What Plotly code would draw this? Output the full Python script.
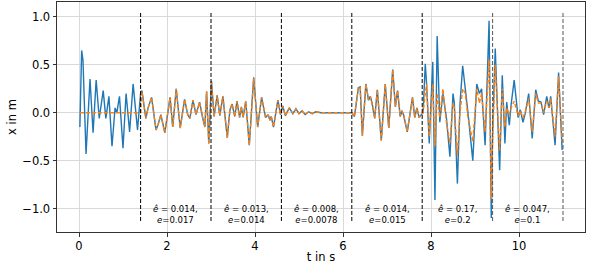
import plotly.graph_objects as go

# ---- data ----
t_true = [0.02, 0.06, 0.09, 0.16, 0.25, 0.32, 0.39, 0.46, 0.55, 0.61, 0.68, 0.75, 0.82, 0.86, 0.92, 1.00,
          1.07, 1.15, 1.23, 1.33, 1.40,
          1.43, 1.47, 1.52, 1.57, 1.65, 1.75, 1.80, 1.86, 1.95, 2.07, 2.13, 2.21, 2.30, 2.40, 2.47, 2.52,
          2.59, 2.66, 2.74, 2.81, 2.86, 2.90, 2.95, 3.01,
          3.07, 3.14, 3.20, 3.27, 3.37, 3.43, 3.48, 3.54, 3.59, 3.65, 3.69, 3.73, 3.79, 3.87, 3.97, 4.06,
          4.15, 4.24, 4.30, 4.34, 4.37, 4.42, 4.52, 4.58, 4.63,
          4.69, 4.78, 4.86, 4.93, 5.00, 5.07, 5.14, 5.22, 5.30, 5.38, 5.50, 6.20,
          6.26, 6.35, 6.39, 6.44, 6.52, 6.58, 6.62, 6.66, 6.72, 6.78, 6.87, 6.96, 7.04, 7.13, 7.19, 7.24,
          7.30, 7.34, 7.38, 7.46, 7.58, 7.63, 7.68, 7.73, 7.78,
          7.82, 7.87, 7.90, 7.96, 8.00, 8.04, 8.09, 8.14, 8.20, 8.27, 8.35, 8.43, 8.50, 8.53, 8.60, 8.66,
          8.72, 8.78, 8.84, 8.95, 9.04, 9.10, 9.15, 9.23, 9.32, 9.37,
          9.40, 9.46, 9.56, 9.62, 9.68, 9.72, 9.78, 9.82, 9.89, 9.98, 10.03, 10.09, 10.14, 10.22, 10.30,
          10.38, 10.44, 10.50, 10.56, 10.63, 10.68, 10.72, 10.82, 10.90, 10.98]
x_true = [-0.15, 0.65, 0.55, -0.43, 0.35, -0.21, 0.34, -0.06, 0.23, -0.06, 0.17, -0.35, 0.05, 0.00, 0.17, -0.37,
          0.20, -0.20, 0.30, -0.18, 0.20,
          0.23, 0.10, -0.06, 0.05, 0.16, -0.18, -0.12, -0.02, -0.21, 0.16, -0.15, 0.25, -0.16, 0.14, -0.02, -0.06,
          0.13, -0.02, 0.11, -0.05, -0.15, 0.22, -0.32, 0.33,
          -0.04, 0.18, -0.03, 0.17, -0.26, 0.03, 0.09, -0.04, 0.12, -0.05, 0.06, -0.05, 0.12, -0.34, 0.37, -0.15,
          0.16, -0.05, -0.02, -0.08, -0.04, -0.15, 0.13, -0.02, 0.07,
          -0.03, 0.05, -0.01, 0.04, -0.01, 0.02, -0.02, 0.01, -0.01, 0.01, 0.00, 0.00,
          -0.04, 0.26, 0.27, -0.24, 0.30, 0.13, 0.17, 0.10, -0.06, 0.24, -0.29, 0.30, -0.16, 0.45, 0.06, 0.23,
          -0.04, 0.02, -0.03, -0.20, 0.16, -0.05, 0.05, -0.05, -0.02,
          0.00, 0.51, 0.30, -0.32, 0.20, 0.53, -0.91, 0.80, -0.10, 0.20, -0.05, -0.46, 0.20, 0.10, -0.74, 0.10,
          0.49, 0.25, 0.00, -0.50, 0.30, 0.20, 0.25, -0.34, 0.96, -1.10,
          -0.20, 0.67, -0.60, 0.39, -0.32, 0.11, -0.13, 0.08, 0.34, -0.05, 0.03, -0.10, -0.01, 0.20, -0.27,
          0.24, 0.12, 0.11, -0.02, 0.17, 0.05, 0.17, -0.34, 0.42, -0.39]

t_est = [0.02, 1.40,
         1.43, 1.47, 1.52, 1.57, 1.65, 1.75, 1.80, 1.86, 1.95, 2.07, 2.13, 2.21, 2.30, 2.40, 2.47, 2.52,
         2.59, 2.66, 2.74, 2.81, 2.86, 2.90, 2.95, 3.01,
         3.07, 3.14, 3.20, 3.27, 3.37, 3.43, 3.48, 3.54, 3.59, 3.65, 3.69, 3.73, 3.79, 3.87, 3.97, 4.06,
         4.15, 4.24, 4.30, 4.34, 4.37, 4.42, 4.52, 4.58, 4.63,
         4.69, 4.78, 4.86, 4.93, 5.00, 5.07, 5.14, 5.22, 5.30, 5.38, 5.50, 6.20,
         6.26, 6.35, 6.39, 6.44, 6.52, 6.58, 6.62, 6.66, 6.72, 6.78, 6.87, 6.96, 7.04, 7.13, 7.19, 7.24,
         7.30, 7.34, 7.38, 7.46, 7.58, 7.63, 7.68, 7.73, 7.78,
         7.82, 7.87, 7.90, 7.96, 8.04, 8.09, 8.14, 8.20, 8.27, 8.35, 8.43, 8.50, 8.53, 8.60, 8.66,
         8.72, 8.78, 8.84, 8.95, 9.04, 9.10, 9.15, 9.23, 9.32, 9.37,
         9.40, 9.46, 9.56, 9.62, 9.68, 9.72, 9.78, 9.82, 9.89, 9.98, 10.03, 10.09, 10.14, 10.22, 10.30,
         10.38, 10.44, 10.50, 10.56, 10.63, 10.68, 10.72, 10.82, 10.90, 10.98]
x_est = [0.00, 0.00,
         0.22, 0.10, -0.06, 0.05, 0.16, -0.18, -0.12, -0.02, -0.21, 0.16, -0.15, 0.25, -0.16, 0.14, -0.02, -0.06,
         0.13, -0.02, 0.11, -0.05, -0.15, 0.22, -0.33, 0.32,
         -0.04, 0.18, -0.03, 0.17, -0.26, 0.03, 0.09, -0.04, 0.12, -0.05, 0.06, -0.05, 0.12, -0.34, 0.36, -0.15,
         0.16, -0.05, -0.02, -0.08, -0.04, -0.15, 0.13, -0.02, 0.07,
         -0.03, 0.05, -0.01, 0.04, -0.01, 0.02, -0.02, 0.01, -0.01, 0.01, 0.00, 0.00,
         -0.04, 0.26, 0.27, -0.24, 0.30, 0.13, 0.17, 0.10, -0.06, 0.24, -0.29, 0.30, -0.16, 0.45, 0.06, 0.23,
         -0.04, 0.02, -0.03, -0.20, 0.16, -0.05, 0.05, -0.05, -0.02,
         0.00, 0.20, 0.30, -0.25, 0.30, -0.35, 0.20, -0.05, 0.25, -0.10, -0.32, 0.10, 0.05, -0.45, 0.00,
         0.25, 0.20, -0.05, -0.30, 0.25, 0.10, 0.20, -0.20, 0.55, -0.90,
         -0.30, 0.50, -0.40, 0.25, -0.15, 0.05, -0.02, 0.05, 0.12, -0.03, 0.02, -0.05, 0.00, 0.15, -0.20,
         0.20, 0.10, 0.10, 0.00, 0.12, 0.05, 0.15, -0.25, 0.38, -0.30]

boundaries = [1.4, 3.0, 4.6, 6.2, 7.8, 9.4, 11.0]
e_hat = ["0.014", "0.013", "0.008", "0.014", "0.17", "0.047"]
e_val = ["0.017", "0.014", "0.0078", "0.015", "0.2", "0.1"]
x_ticks = [0, 2, 4, 6, 8, 10]
y_ticks = [-1.0, -0.5, 0.0, 0.5, 1.0]

FONT = "DejaVu Sans"

fig = go.Figure()
fig.add_trace(go.Scatter(x=t_true, y=x_true, mode="lines",
                         line=dict(color="#1f77b4", width=1.4), showlegend=False))
fig.add_trace(go.Scatter(x=t_est, y=x_est, mode="lines",
                         line=dict(color="#ff7f0e", width=1.4, dash="4px,2px"), showlegend=False))

for i, b in enumerate(boundaries):
    col = "#000000" if i < 5 else "#555555"
    fig.add_shape(type="line", x0=b, x1=b, y0=-1.13, y1=1.05, xref="x", yref="y",
                  line=dict(color=col, width=1, dash="4px,2px"))

for i in range(len(e_hat)):
    mid = (boundaries[i] + boundaries[i + 1]) / 2
    fig.add_annotation(x=mid, y=-1.06, xref="x", yref="y", showarrow=False,
                       text=f"<i>ê</i> = {e_hat[i]},<br><i>e</i>={e_val[i]}",
                       align="center", font=dict(family=FONT, size=8.5, color="#000"))

fig.update_layout(
    width=598, height=272,
    margin=dict(l=57, r=13, t=2, b=40, autoexpand=False),
    plot_bgcolor="white", paper_bgcolor="white",
    font=dict(family=FONT, size=11.5, color="#000"),
)
fig.update_xaxes(range=[-0.5, 11.5], tickvals=x_ticks, showgrid=True, gridcolor="#d9d9d9", gridwidth=1,
                 zeroline=False, showline=True, mirror=True, linecolor="#333", linewidth=1,
                 ticks="outside", ticklen=3.5, tickcolor="#333", automargin=False,
                 title=dict(text="t in s", standoff=0, font=dict(size=11.5)))
fig.update_yaxes(range=[-1.245, 1.155], tickvals=y_ticks, tickformat=".1f", showgrid=True, gridcolor="#d9d9d9",
                 gridwidth=1, zeroline=False, showline=True, mirror=True, linecolor="#333", linewidth=1,
                 ticks="outside", ticklen=3.5, tickcolor="#333", automargin=False,
                 title=dict(text="x in m", standoff=3, font=dict(size=11.5)))

fig.write_html("out.html", config={"displayModeBar": False},
               post_script="document.body.style.margin='0';document.body.style.overflow='hidden';")
